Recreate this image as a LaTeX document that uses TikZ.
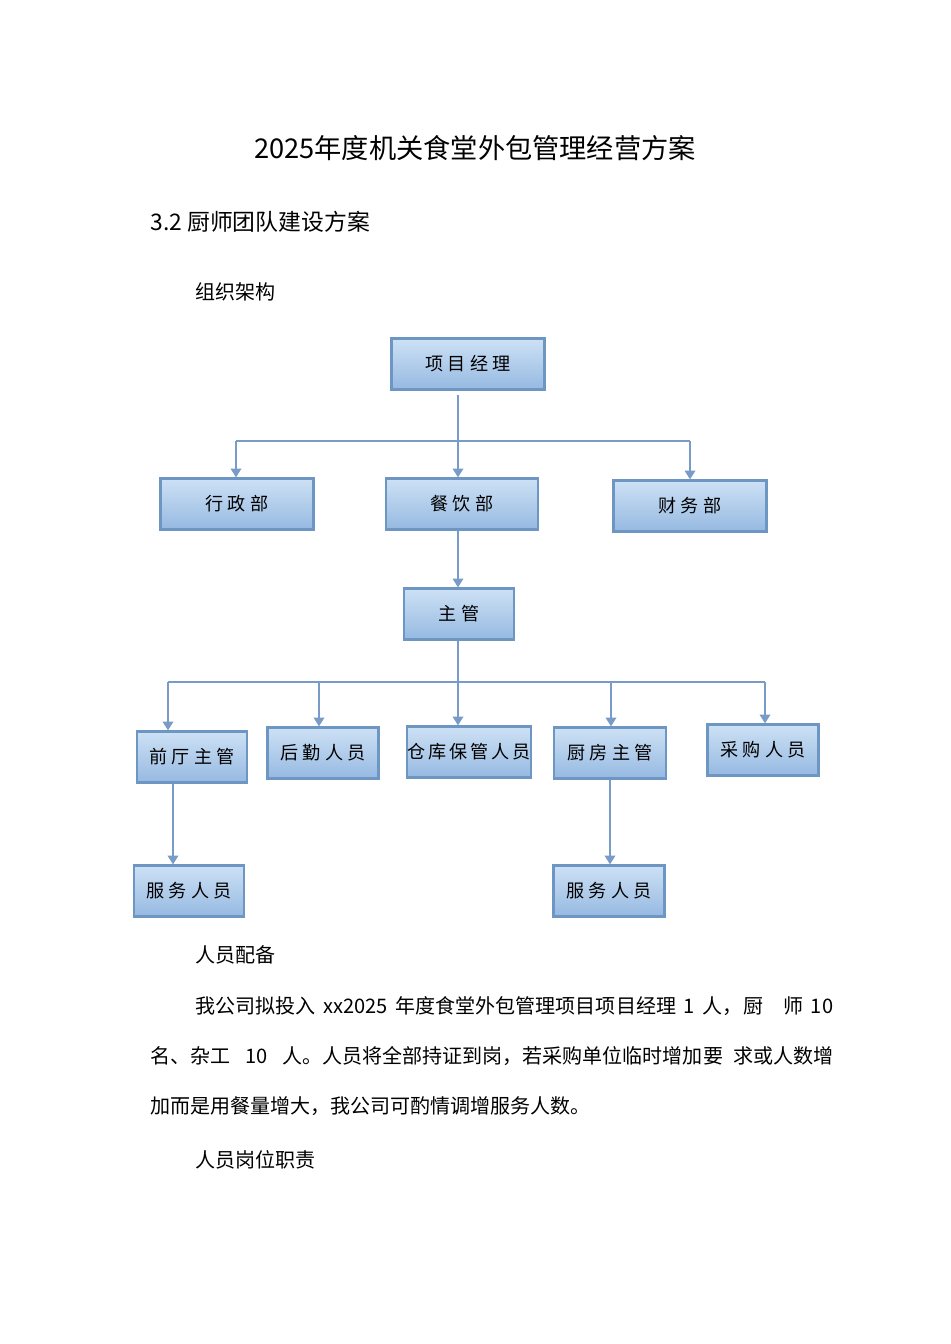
\documentclass[tikz,border=0pt]{standalone}
\usepackage{fontspec}
\setmainfont{Noto Sans CJK SC}
\usetikzlibrary{arrows.meta,positioning}
\definecolor{boxtop}{RGB}{205,225,245}
\definecolor{boxbot}{RGB}{150,185,225}
\definecolor{boxline}{RGB}{110,150,195}
\definecolor{lnk}{RGB}{120,155,200}
\tikzset{
  unit/.style={draw=boxline,line width=1.3pt,top color=boxtop,bottom color=boxbot,
    minimum height=1.02cm,inner sep=0pt,font=\fontsize{10.3}{12}\selectfont},
  link/.style={draw=lnk,line width=1pt,-{Triangle[length=5pt,width=6pt]}},
  bar/.style={draw=lnk,line width=1pt},
  txt/.style={anchor=west,inner sep=0pt,font=\fontsize{11.4}{13}\selectfont}
}
\begin{document}
\begin{tikzpicture}[x=0.02cm,y=-0.02cm]
\useasboundingbox (0,0) rectangle (950,1344);
% headings
\node[inner sep=0pt,font=\fontsize{15.5}{18}\selectfont] (title) at (475,148) {2025年度机关食堂外包管理经营方案};
\node[txt,font=\fontsize{13}{15}\selectfont] (sec) at (150,222) {3.2 厨师团队建设方案};
\node[txt] (org) at (195,292) {组织架构};
% chart
\node[unit,minimum width=3.06cm] (pm) at (468,364) {项 目 经 理};
\node[unit,minimum width=3.06cm] (adm) at (237,504) {行 政 部};
\node[unit,minimum width=3.04cm] (food) at (462,504) {餐 饮 部};
\node[unit,minimum width=3.06cm] (fin) at (690,506) {财 务 部};
\node[unit,minimum width=2.2cm] (sup) at (459,614) {主 管};
\node[unit,minimum width=2.2cm] (front) at (192,757) {前 厅 主 管};
\node[unit,minimum width=2.22cm] (logi) at (323,753) {后 勤 人 员};
\node[unit,minimum width=2.46cm] (store) at (469,752) {仓\,库\,保\,管\,人\,员};
\node[unit,minimum width=2.24cm] (kit) at (610,753) {厨 房 主 管};
\node[unit,minimum width=2.22cm] (buy) at (763,750) {采 购 人 员};
\node[unit,minimum width=2.2cm] (srv1) at (189,891) {服 务 人 员};
\node[unit,minimum width=2.22cm] (srv2) at (609,891) {服 务 人 员};
\coordinate (j1) at (458,441);
\coordinate (j1l) at (236,441);
\coordinate (j1r) at (690,441);
\coordinate (j2) at (458,682);
\path[bar] (458,395) -- (j1);
\path[bar] (j1l) -- (j1r);
\path[link] (j1) -- (food.north -| j1);
\path[link] (j1l) -- (adm.north -| j1l);
\path[link] (j1r) -- (fin.north -| j1r);
\path[link] (food.south -| j2) -- (sup.north -| j2);
\path[bar] (sup.south -| j2) -- (j2);
\path[bar] (168,682) -- (765,682);
\foreach \xx/\tg in {168/front,319/logi,458/store,611/kit,765/buy}
  \path[link] (\xx,682) -- (\tg.north -| \xx,0);
\path[link] (front.south -| 173,0) -- (srv1.north -| 173,0);
\path[link] (kit.south -| 610,0) -- (srv2.north -| 610,0);
% body text
\node[txt] (staff) at (195,955) {人员配备};
\node[txt] (p1) at (195,1006) {\makebox[12.76cm][s]{我公司拟投入 xx2025 年度食堂外包管理项目项目经理 1 人，厨\quad 师 10}};
\node[txt] (p2) at (150,1056) {\makebox[13.66cm][s]{名、杂工 10 人。人员将全部持证到岗，若采购单位临时增加要\enspace 求或人数增}};
\node[txt] (p3) at (150,1106) {加而是用餐量增大，我公司可酌情调增服务人数。};
\node[txt] (duty) at (195,1160) {人员岗位职责};
\end{tikzpicture}
\end{document}
